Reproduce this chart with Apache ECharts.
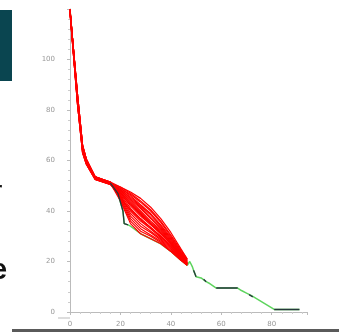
<!DOCTYPE html>
<html>
<head>
<meta charset="utf-8">
<script src="https://cdn.jsdelivr.net/npm/echarts@6/dist/echarts.min.js"></script>
<style>
  html, body { margin: 0; padding: 0; background: #fff; }
  #chart { width: 339px; height: 332px; }
</style>
</head>
<body>
<div id="chart"></div>
<script>
// shared x positions of the red trajectories
const redX = [0, 3, 5, 6.5, 10, 16, 20, 24, 28, 32, 36, 40, 44, 46.5];
const redLines = [
  [120, 85, 65.5, 60, 53.5, 51.5, 49.5, 47.5, 45, 41.5, 37, 31.5, 25, 21],
  [119.5, 84, 65, 59.5, 53, 51, 49.5, 47, 44, 40.5, 36, 30.5, 24.5, 21],
  [119, 83, 64, 59, 53, 51, 49, 46.5, 43.5, 40, 35.5, 30, 24, 20.5],
  [118.5, 82, 63, 58.5, 52.5, 50.5, 49, 46, 42.5, 39, 34.5, 29.5, 23.5, 20.5],
  [119.5, 86, 66, 60.5, 53.5, 51, 48.5, 45.5, 42, 38.5, 34, 29, 23.5, 20],
  [120, 85, 65.5, 60, 53.5, 51.5, 48, 44.5, 41, 37, 33, 28, 23, 20],
  [119.5, 84, 65, 59.5, 53, 51, 48, 44, 40, 36, 32.5, 27.5, 22.5, 19.5],
  [119, 83, 64, 59, 53, 51, 47.5, 43.5, 39.5, 35.5, 32, 27.5, 22.5, 19.5],
  [118.5, 82, 63, 58.5, 52.5, 50.5, 47, 42.5, 38.5, 35, 31.5, 27, 22, 19.5],
  [119.5, 86, 66, 60.5, 53.5, 51, 47, 42, 38, 34.5, 31, 27, 22, 19],
  [120, 85, 65.5, 60, 53.5, 51.5, 46.5, 41, 37, 33.5, 30, 26.5, 22, 19],
  [119.5, 84, 65, 59.5, 53, 51, 46, 40, 36, 33, 29.5, 26, 21.5, 19],
  [119, 83, 64, 59, 53, 51, 46, 39, 35, 32, 29, 25.5, 21.5, 19],
  [118.5, 82, 63, 58.5, 52.5, 50.5, 45.5, 38, 34, 31.5, 28.5, 25, 21, 19],
  [119.5, 86, 66, 60.5, 53.5, 51, 45, 37, 33, 30.5, 28, 24.5, 21, 18.5],
  [120, 85, 65.5, 60, 53.5, 51.5, 44.5, 36, 32, 30, 27.5, 24, 20.5, 18.5],
  [119.5, 84, 65, 59.5, 53, 51, 44, 35, 31, 29, 27, 24, 20.5, 18.5],
  [119, 83, 64, 59, 53, 51, 45, 40.5, 36.5, 33.5, 30, 26, 21.5, 19],
  [118.5, 82, 63, 58.5, 52.5, 50.5, 48.5, 45, 41.5, 37.5, 33.5, 28.5, 23, 20],
  [119.5, 86, 66, 60.5, 53.5, 51, 47.5, 43, 39, 35, 31, 27, 22.5, 19.5]
];

// main trajectory (green)
const mainX = [0, 3, 5, 6.5, 10, 16, 19, 21, 21.5, 23, 24, 28, 32, 36, 40, 44, 46.5, 47.5, 48.5, 49, 50, 52, 54, 55, 58, 66.5, 68, 70, 72, 81, 91];
const mainY = [120, 84, 64.5, 59.5, 53, 51, 47, 40, 35, 34.5, 34, 31, 29, 27, 24, 20.5, 18.5, 20, 18, 16.5, 14, 13.5, 12, 11.5, 9.5, 9.5, 8.5, 7.5, 6.5, 1, 1];

// dark pieces drawn over the main trajectory
const darkSegments = [
  [[16, 51], [19, 47], [21, 40], [21.5, 35], [23, 34.5]],
  [[49, 16.5], [50, 14]],
  [[53, 13], [54, 12]],
  [[58, 9.5], [66.5, 9.5]],
  [[71, 6.9], [72.5, 6]],
  [[81, 1], [91, 1]]
];

const xTicks = { min: 0, max: 94, interval: 20 };
const yTicks = { min: 0, max: 120, interval: 20 };

const zip = (xs, ys) => xs.map((x, i) => [x, ys[i]]);

const series = [];
series.push({
  type: 'line', silent: true, showSymbol: false, animation: false,
  lineStyle: { color: '#5ed45e', width: 1.5 },
  data: zip(mainX, mainY), z: 2
});
redLines.forEach(ys => series.push({
  type: 'line', silent: true, showSymbol: false, animation: false,
  lineStyle: { color: '#ff0000', width: 1.2 },
  data: zip(redX, ys), z: 3
}));
darkSegments.forEach(seg => series.push({
  type: 'line', silent: true, showSymbol: false, animation: false,
  lineStyle: { color: '#25393a', width: 1.3 },
  data: seg, z: 4
}));

const axisCommon = {
  type: 'value',
  splitLine: { show: false },
  axisLine: { show: true, lineStyle: { color: '#bbb', width: 1 } },
  axisTick: { show: true, length: 3, lineStyle: { color: '#bbb' } },
  minorTick: { show: true, splitNumber: 5, length: 2, lineStyle: { color: '#ccc' } },
  axisLabel: { color: '#999', fontSize: 7, showMaxLabel: false, fontFamily: 'DejaVu Sans' }
};

const chart = echarts.init(document.getElementById('chart'), null, { renderer: 'canvas' });
chart.setOption({
  animation: false,
  grid: { left: 70, top: 9, width: 237, height: 303 },
  xAxis: Object.assign({}, axisCommon, xTicks, { offset: 6,
    axisLabel: Object.assign({}, axisCommon.axisLabel, { margin: 3 }) }),
  yAxis: Object.assign({}, axisCommon, yTicks, { offset: 11,
    axisLabel: Object.assign({}, axisCommon.axisLabel, { margin: 4 }) }),
  series: series,
  graphic: [
    { type: 'rect', left: 0, top: 10, shape: { width: 12, height: 71 }, style: { fill: '#0a4550' } },
    { type: 'rect', left: 12, top: 329, shape: { width: 327, height: 3 }, style: { fill: '#5a5a5a' } },
    { type: 'line', shape: { x1: 58, y1: 318, x2: 70, y2: 318 }, style: { stroke: '#bbb', lineWidth: 1 } },
    { type: 'text', x: -7, y: 178, style: { text: 'r', font: '28px "Liberation Sans"', fill: '#111' } },
    { type: 'text', x: -9, y: 256, style: { text: 'e', font: 'bold 29px "Liberation Sans"', fill: '#111' } }
  ]
});
</script>
</body>
</html>
